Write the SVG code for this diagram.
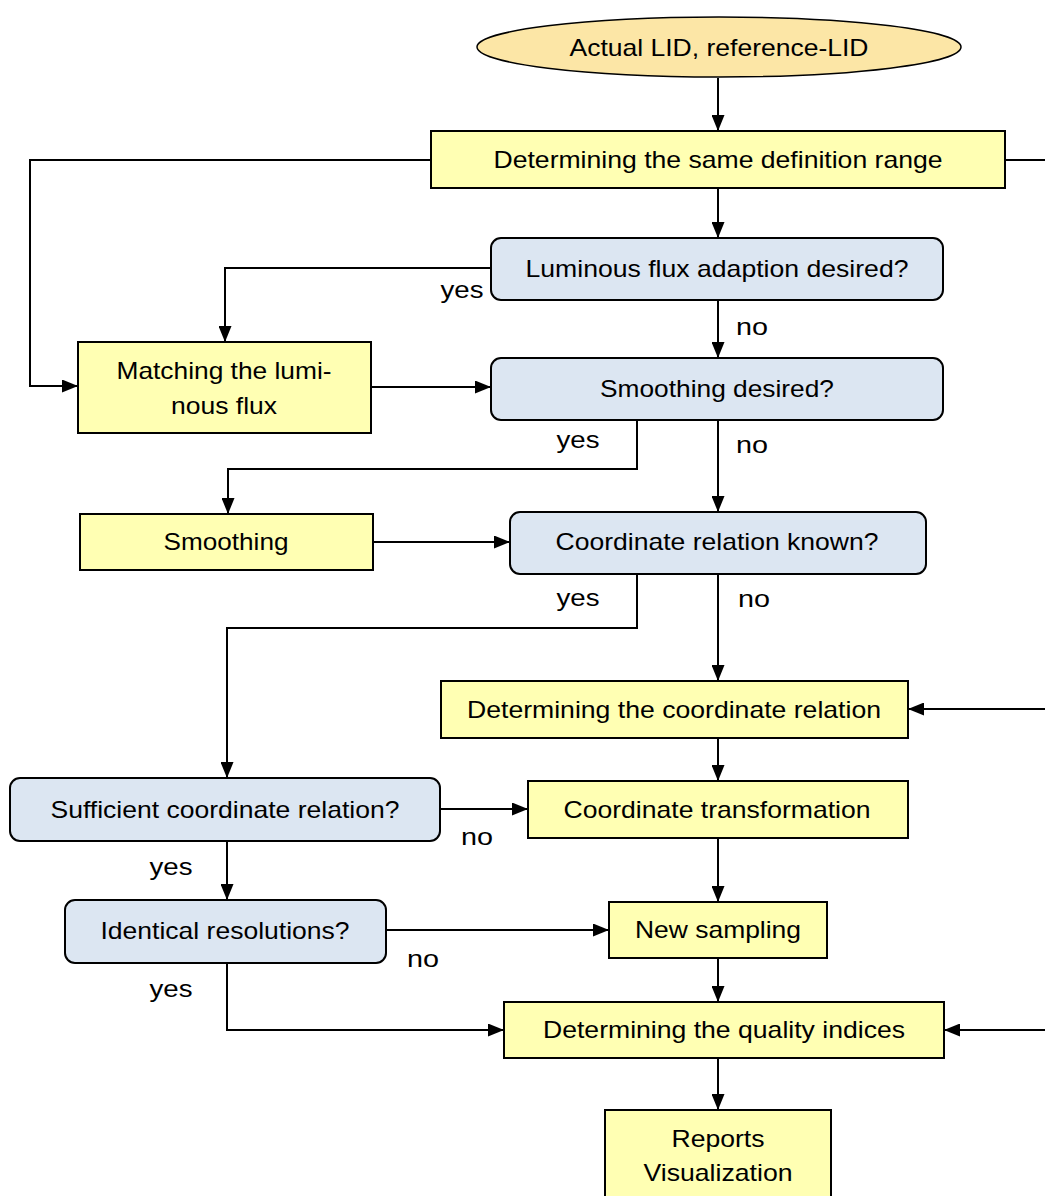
<svg xmlns="http://www.w3.org/2000/svg" width="1045" height="1196" viewBox="0 0 1045 1196">
<style>
text{font-family:"Liberation Sans",Arial,sans-serif;font-size:24px;fill:#000;text-anchor:middle;dominant-baseline:central}
.p{fill:#FFFFB3;stroke:#000;stroke-width:2}
.d{fill:#DCE6F2;stroke:#000;stroke-width:2}
.s{fill:#FCE6A6;stroke:#000;stroke-width:1.5}
.c{fill:none;stroke:#000;stroke-width:2}
</style>
<defs>
<marker id="a" markerUnits="userSpaceOnUse" markerWidth="16" markerHeight="13" refX="16" refY="6.5" orient="auto">
<path d="M0,0 L16,6.5 L0,13 z" fill="#000"/>
</marker>
</defs>
<g id="connectors">
<path class="c" d="M718,78 V131" marker-end="url(#a)"/>
<path class="c" d="M718,188 V238" marker-end="url(#a)"/>
<path class="c" d="M431,160 H30 V386 H78" marker-end="url(#a)"/>
<path class="c" d="M1005,160 H1050"/>
<path class="c" d="M491,268 H225 V342" marker-end="url(#a)"/>
<path class="c" d="M718,300 V358" marker-end="url(#a)"/>
<path class="c" d="M371,387 H491" marker-end="url(#a)"/>
<path class="c" d="M637,420 V469 H228 V514" marker-end="url(#a)"/>
<path class="c" d="M718,420 V512" marker-end="url(#a)"/>
<path class="c" d="M373,542 H510" marker-end="url(#a)"/>
<path class="c" d="M637,574 V628 H227 V778" marker-end="url(#a)"/>
<path class="c" d="M718,574 V681" marker-end="url(#a)"/>
<path class="c" d="M1050,709 H908" marker-end="url(#a)"/>
<path class="c" d="M718,738 V781" marker-end="url(#a)"/>
<path class="c" d="M440,809 H528" marker-end="url(#a)"/>
<path class="c" d="M227,841 V900" marker-end="url(#a)"/>
<path class="c" d="M718,838 V902" marker-end="url(#a)"/>
<path class="c" d="M386,930 H609" marker-end="url(#a)"/>
<path class="c" d="M718,958 V1002" marker-end="url(#a)"/>
<path class="c" d="M227,963 V1030 H504" marker-end="url(#a)"/>
<path class="c" d="M1050,1030 H944" marker-end="url(#a)"/>
<path class="c" d="M718,1058 V1110" marker-end="url(#a)"/>
<text x="462" y="289" textLength="43" lengthAdjust="spacingAndGlyphs">yes</text>
<text x="752" y="326" textLength="32" lengthAdjust="spacingAndGlyphs">no</text>
<text x="578" y="439" textLength="43" lengthAdjust="spacingAndGlyphs">yes</text>
<text x="752" y="444" textLength="32" lengthAdjust="spacingAndGlyphs">no</text>
<text x="578" y="597" textLength="43" lengthAdjust="spacingAndGlyphs">yes</text>
<text x="754" y="598" textLength="32" lengthAdjust="spacingAndGlyphs">no</text>
<text x="477" y="836" textLength="32" lengthAdjust="spacingAndGlyphs">no</text>
<text x="171" y="866" textLength="43" lengthAdjust="spacingAndGlyphs">yes</text>
<text x="423" y="958" textLength="32" lengthAdjust="spacingAndGlyphs">no</text>
<text x="171" y="988" textLength="43" lengthAdjust="spacingAndGlyphs">yes</text>
</g>
<g id="n_start"><ellipse class="s" cx="719" cy="47" rx="242" ry="30"/><text x="719" y="47" textLength="299" lengthAdjust="spacingAndGlyphs">Actual LID, reference-LID</text></g>
<g id="n_range"><rect class="p" x="431" y="131" width="574" height="57"/><text x="718" y="159" textLength="449" lengthAdjust="spacingAndGlyphs">Determining the same definition range</text></g>
<g id="n_lumq"><rect class="d" x="491" y="238" width="452" height="62" rx="10"/><text x="717" y="268" textLength="383" lengthAdjust="spacingAndGlyphs">Luminous flux adaption desired?</text></g>
<g id="n_match"><rect class="p" x="78" y="342" width="293" height="91"/><text x="224" y="370" textLength="215" lengthAdjust="spacingAndGlyphs">Matching the lumi-</text><text x="224" y="405" textLength="106" lengthAdjust="spacingAndGlyphs">nous flux</text></g>
<g id="n_smq"><rect class="d" x="491" y="358" width="452" height="62" rx="10"/><text x="717" y="388" textLength="234" lengthAdjust="spacingAndGlyphs">Smoothing desired?</text></g>
<g id="n_smooth"><rect class="p" x="80" y="514" width="293" height="56"/><text x="226" y="541" textLength="125" lengthAdjust="spacingAndGlyphs">Smoothing</text></g>
<g id="n_coordq"><rect class="d" x="510" y="512" width="416" height="62" rx="10"/><text x="717" y="541" textLength="323" lengthAdjust="spacingAndGlyphs">Coordinate relation known?</text></g>
<g id="n_detcoord"><rect class="p" x="441" y="681" width="467" height="57"/><text x="674" y="709" textLength="414" lengthAdjust="spacingAndGlyphs">Determining the coordinate relation</text></g>
<g id="n_suffq"><rect class="d" x="10" y="778" width="430" height="63" rx="10"/><text x="225" y="809" textLength="349" lengthAdjust="spacingAndGlyphs">Sufficient coordinate relation?</text></g>
<g id="n_transf"><rect class="p" x="528" y="781" width="380" height="57"/><text x="717" y="809" textLength="307" lengthAdjust="spacingAndGlyphs">Coordinate transformation</text></g>
<g id="n_identq"><rect class="d" x="65" y="900" width="321" height="63" rx="10"/><text x="225" y="930" textLength="249" lengthAdjust="spacingAndGlyphs">Identical resolutions?</text></g>
<g id="n_sampl"><rect class="p" x="609" y="902" width="218" height="56"/><text x="718" y="929" textLength="166" lengthAdjust="spacingAndGlyphs">New sampling</text></g>
<g id="n_qual"><rect class="p" x="504" y="1002" width="440" height="56"/><text x="724" y="1029" textLength="362" lengthAdjust="spacingAndGlyphs">Determining the quality indices</text></g>
<g id="n_report"><rect class="p" x="605" y="1110" width="226" height="95"/><text x="718" y="1138" textLength="93" lengthAdjust="spacingAndGlyphs">Reports</text><text x="718" y="1172" textLength="149" lengthAdjust="spacingAndGlyphs">Visualization</text></g>
</svg>
